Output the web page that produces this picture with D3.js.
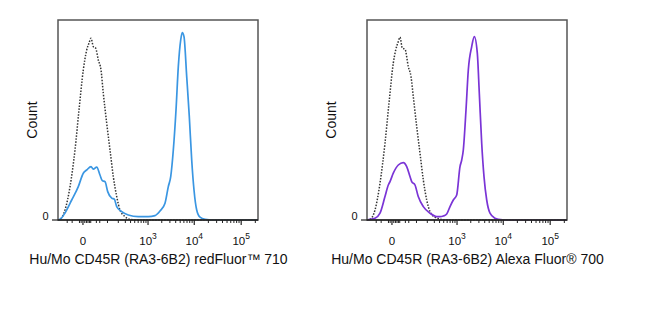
<!DOCTYPE html>
<html>
<head>
<meta charset="utf-8">
<script src="https://cdn.jsdelivr.net/npm/d3@7"></script>
<style>
  html, body { margin: 0; padding: 0; background: #fff; }
  svg { display: block; }
  text { font-family: Arial, "Liberation Sans", sans-serif; fill: #111; }
</style>
</head>
<body>
<svg id="chart" width="649" height="330"></svg>
<script>
// ---------- data ----------
const xMajorTicks = [0, 1000, 10000, 100000];
const xMajorBase = ["0", "10", "10", "10"];
const xMajorExp = ["", "3", "4", "5"];
const xMinorTicks = [-50, -30, -8, -4, 4, 8, 12, 16, 20, 40, 55,
  100, 200, 300, 400, 500, 600, 700, 800, 900,
  2000, 3000, 4000, 5000, 6000, 7000, 8000, 9000,
  20000, 30000, 40000, 50000, 60000, 70000, 80000, 90000, 200000];
const yTicks = [0];
const yTickLabels = ["0"];

const titles = ["Hu/Mo CD45R (RA3-6B2) redFluor\u2122 710", "Hu/Mo CD45R (RA3-6B2) Alexa Fluor\u00AE 700"];
const stainColors = ["#3a96e2", "#7a34d6"];

const leftCtrlX = [-103, -89, -60.6, -38, -20.5, -9.2, 0.74, 8.7, 14.8, 20.8, 28.4, 37.3, 48.2, 61.1, 73.5, 94.7, 118.9, 147.2, 182, 221, 294, 388, 600, 228000];
const leftCtrlY = [0, 0.35, 5, 16.7, 35, 55, 75, 85, 88.4, 90.9, 86.7, 85.9, 80, 75, 63.4, 48.4, 35, 21.7, 11.7, 5, 1.7, 0.35, 0, 0];

const leftStainX = [-103, -89, -60.6, -31.6, -11, 0.74, 8.7, 20.8, 28.4, 41.4, 56, 68, 83.7, 101.6, 133, 157, 182, 244, 354, 605, 1014, 1424, 1832, 2352, 2773, 3126, 3556, 4063, 4554, 5126, 5548, 6031, 6893, 7835, 8817, 9873, 11275, 13265, 16963, 25000, 228000];
const leftStainY = [0, 0.35, 3.5, 10, 16.7, 23.4, 25, 26.7, 25.4, 26.4, 22.5, 19.7, 19.2, 14.2, 10.9, 10.4, 6.7, 4.2, 2.5, 1.7, 1.7, 2.2, 4.5, 8.4, 16.7, 21.7, 35, 55, 76.7, 90, 93.7, 91.7, 71.7, 51.7, 30, 15, 5, 1.4, 0.35, 0, 0];

const rightCtrlX = [-103, -83, -55.7, -34.2, -17.5, -6.7, 2.9, 8.7, 15.7, 20.8, 28.4, 38.5, 52.8, 66.4, 79.4, 101.6, 126.9, 157, 193, 234, 311, 600, 228000];
const rightCtrlY = [0, 0.35, 5, 18.4, 38.4, 58.4, 78.4, 85, 89.2, 91.4, 85.9, 85.4, 76.7, 71.7, 61.7, 46.7, 33.4, 20, 10, 4.2, 1.4, 0, 0];

const rightStainX = [-103, -83, -55.7, -34.2, -17.5, -8.4, -4.3, 2.9, 15.7, 32, 45.6, 61.1, 70.2, 90, 113, 157, 234, 342, 410, 489, 586, 696, 826, 983, 1163, 1269, 1375, 1575, 1769, 2097, 2389, 2773, 3063, 3449, 3866, 4420, 5203, 6660, 7835, 12000, 228000];
const rightStainY = [0, 0.35, 0.85, 3.4, 11.7, 17.5, 19.2, 23.4, 27.5, 28.7, 26.7, 21.7, 19.2, 17.5, 11.7, 6.7, 3.4, 1.7, 1.7, 2, 3, 6.7, 10, 12.5, 26.7, 30, 35, 55, 75, 86.7, 91.7, 83.4, 63.4, 38.4, 21.7, 10, 3.4, 0.85, 0.35, 0, 0];

// ---------- layout ----------
const panels = [
  { left: 58, ctrlX: leftCtrlX, ctrlY: leftCtrlY, stX: leftStainX, stY: leftStainY, countX: 36.5, titleX: 158.5 },
  { left: 367, ctrlX: rightCtrlX, ctrlY: rightCtrlY, stX: rightStainX, stY: rightStainY, countX: 336, titleX: 467.5 }
];
const plotW = 200, plotTop = 20, plotBottom = 220;

const svg = d3.select("#chart");
svg.append("rect").attr("width", 649).attr("height", 330).attr("fill", "#fff");

panels.forEach((p, i) => {
  const x = d3.scaleSymlog().constant(43).domain([-103, 228000]).range([p.left, p.left + plotW]);
  const y = d3.scaleLinear().domain([0, 100]).range([plotBottom, plotTop]);
  const g = svg.append("g");

  const line = d3.line().x(d => x(d[0])).y(d => y(d[1])).curve(d3.curveMonotoneX);

  // control (dotted)
  g.append("path")
    .datum(p.ctrlX.map((v, k) => [v, p.ctrlY[k]]))
    .attr("d", line).attr("fill", "none")
    .attr("stroke", "#333").attr("stroke-width", 1.5)
    .attr("stroke-dasharray", "1.5,1.5");

  // stained
  g.append("path")
    .datum(p.stX.map((v, k) => [v, p.stY[k]]))
    .attr("d", line).attr("fill", "none")
    .attr("stroke", stainColors[i]).attr("stroke-width", 1.7)
    .attr("stroke-linejoin", "round");

  // frame
  g.append("rect").attr("x", p.left).attr("y", plotTop).attr("width", plotW).attr("height", plotBottom - plotTop)
    .attr("fill", "none").attr("stroke", "#555").attr("stroke-width", 1.5);
  g.append("line").attr("x1", p.left).attr("x2", p.left + plotW).attr("y1", plotBottom).attr("y2", plotBottom)
    .attr("stroke", "#222").attr("stroke-width", 1.5);

  // x ticks
  g.selectAll(".minor").data(xMinorTicks).enter().append("line")
    .attr("x1", d => x(d)).attr("x2", d => x(d)).attr("y1", plotBottom).attr("y2", plotBottom + 3)
    .attr("stroke", "#222").attr("stroke-width", 1);
  g.selectAll(".major").data(xMajorTicks).enter().append("line")
    .attr("x1", d => x(d)).attr("x2", d => x(d)).attr("y1", plotBottom).attr("y2", plotBottom + 5)
    .attr("stroke", "#222").attr("stroke-width", 1.2);

  xMajorTicks.forEach((v, k) => {
    const t = g.append("text").attr("x", x(v)).attr("y", 245).attr("text-anchor", "middle")
      .style("font-size", "11.5px");
    t.append("tspan").text(xMajorBase[k]);
    if (xMajorExp[k]) t.append("tspan").attr("dy", -6).style("font-size", "8.5px").text(xMajorExp[k]);
  });

  // y tick
  yTicks.forEach((v, k) => {
    g.append("line").attr("x1", p.left - 6).attr("x2", p.left).attr("y1", y(v)).attr("y2", y(v))
      .attr("stroke", "#222").attr("stroke-width", 1.2);
    g.append("text").attr("x", p.left - 9.5).attr("y", y(v) - 0.5).attr("text-anchor", "end")
      .style("font-size", "11px").text(yTickLabels[k]);
  });

  // axis titles
  g.append("text").attr("transform", `translate(${p.countX},120) rotate(-90)`)
    .attr("text-anchor", "middle").style("font-size", "14px").text("Count");
  g.append("text").attr("x", p.titleX).attr("y", 263.5).attr("text-anchor", "middle")
    .style("font-size", "14px").text(titles[i]);
});
</script>
</body>
</html>
